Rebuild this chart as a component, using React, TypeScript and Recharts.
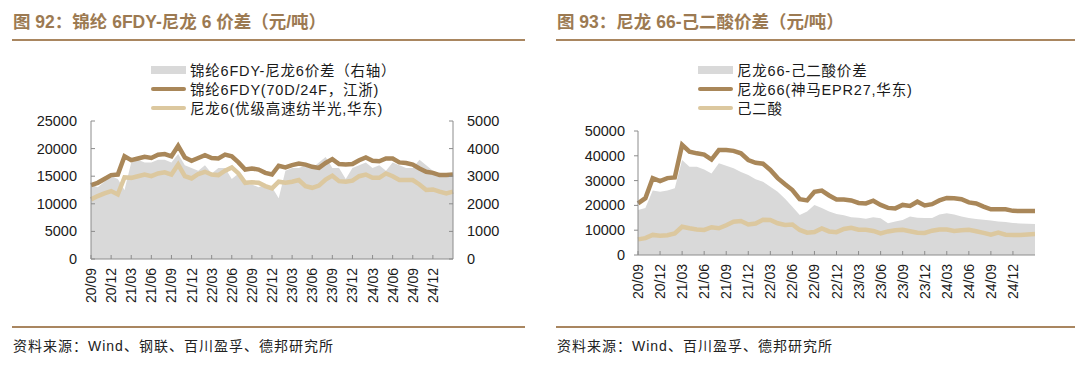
import React from "react";
import { ComposedChart, Area, Line, XAxis, YAxis } from "recharts";

const MONTHS = [
    "20/09", "20/10", "20/11", "20/12",
    "21/01", "21/02", "21/03", "21/04", "21/05", "21/06", "21/07", "21/08", "21/09", "21/10", "21/11", "21/12",
    "22/01", "22/02", "22/03", "22/04", "22/05", "22/06", "22/07", "22/08", "22/09", "22/10", "22/11", "22/12",
    "23/01", "23/02", "23/03", "23/04", "23/05", "23/06", "23/07", "23/08", "23/09", "23/10", "23/11", "23/12",
    "24/01", "24/02", "24/03", "24/04", "24/05", "24/06", "24/07", "24/08", "24/09", "24/10", "24/11", "24/12",
    "25/01", "25/02", "25/03",
];

// 图92
const FDY = [
    13400, 13800, 14500, 15200, 15300, 18600, 17900, 18200, 18500, 18300,
    18900, 19000, 18600, 20500, 18400, 17800, 18300, 18800, 18300, 18200,
    18900, 18600, 17500, 16200, 16400, 16200, 15600, 15300, 16900, 16600,
    17000, 17300, 17100, 16700, 16500, 17400, 18100, 17200, 17100, 17200,
    17900, 18400, 17800, 17700, 18200, 18200, 17500, 17400, 17100, 16400,
    15800, 15600, 15200, 15200, 15300,
];
const PA6 = [
    10800, 11400, 11900, 12300, 11700, 14800, 14700, 15000, 15300, 15000,
    15500, 15700, 15300, 17100, 15000, 14600, 15400, 15800, 15300, 15200,
    16000, 16600, 15500, 13800, 13900, 13800, 13200, 12800, 14000, 13800,
    14000, 14300, 13200, 12900, 13300, 14400, 15100, 14100, 14000, 14200,
    15000, 15300, 14700, 14700, 15500, 15000, 14300, 14300, 14300, 13500,
    12500, 12600, 12200, 11900, 12200,
];
const SPREAD6 = [
    2700, 2600, 2800, 3000, 2900, 2500, 3500, 3600, 3500, 3500,
    3600, 3600, 3500, 3800, 3400, 3300, 3200, 3400, 3100, 3300,
    3300, 2900, 3100, 2700, 2700, 2600, 2700, 2600, 2200, 3200,
    3300, 3300, 3400, 3300, 3500, 3700, 3300, 3300, 2900, 3300,
    3400, 3500, 3300, 3400, 3200, 3500, 3400, 3300, 3300, 3600,
    3400, 3200, 3100, 3000, 3100,
];

// 图93
const PA66 = [
    20800, 22900, 31000, 29800, 31000, 31300, 44400, 41700, 41000, 40500,
    38500, 42300, 42300, 42000, 41000, 38300, 37200, 36800, 34300, 31000,
    28500, 26200, 22500, 22000, 25500, 26000, 24000, 22400, 22400, 22000,
    21000, 20800, 21900, 20200, 19000, 18800, 20200, 19800, 21500, 20000,
    20500, 22000, 23000, 22900, 22500, 21200, 20800, 19500, 18400, 18400,
    18400, 17800, 17700, 17700, 17700,
];
const ADIPIC = [
    6300, 6800, 8100, 7800, 8000, 8700, 11400, 10800, 10300, 10100,
    11200, 10800, 12000, 13400, 13700, 12300, 12700, 14200, 14100, 12800,
    12100, 12300, 10100, 9000, 9300, 10700, 9500, 9200, 10500, 11000,
    10200, 10200, 9700, 8700, 9500, 10000, 10200, 9600, 9000, 8900,
    9800, 10300, 10300, 9700, 10000, 10200, 9600, 8900, 8200, 9000,
    8200, 8100, 8100, 8300, 8500,
];
const SPREAD66 = [
    18100, 19000, 26000, 25500, 26000, 26900, 38300, 35600, 35600, 34500,
    32900, 37000, 36000, 35000, 33500, 32300, 30500, 29500, 27500, 25500,
    22700, 19500, 16100, 17500, 20200, 19000, 17500, 16500, 16000, 15200,
    15000, 14600, 15200, 14800, 12800, 13500, 14100, 15500, 15000, 14900,
    14900, 16300, 16800, 16300, 15500, 14900, 14500, 14200, 13900, 13500,
    13300, 12900, 12700, 12600, 12500,
];

const LEFT_TICKS = [0, 5000, 10000, 15000, 20000, 25000];
const RIGHT_TICKS = [0, 1000, 2000, 3000, 4000, 5000];
const PA66_TICKS = [0, 10000, 20000, 30000, 40000, 50000];

const data92 = MONTHS.map((m, i) => ({ m, fdy: FDY[i], pa6: PA6[i], spread: SPREAD6[i] }));
const data93 = MONTHS.map((m, i) => ({ m, pa66: PA66[i], adipic: ADIPIC[i], spread: SPREAD66[i] }));

const DARK = "#a98759";
const LIGHT = "#dcc89f";
const GREY = "#d9d9d9";
const AXIS = "#8c8c8c";
const BROWN = "#a98660";
const NUM_FONT = "'Liberation Sans', Arial, 'Noto Sans CJK SC', sans-serif";

function XTick(props: any) {
    const { x, y, payload } = props;
    if (payload.value === "25/03") return <g />;
    const ty = y + 9;
    return (
        <g>
            <line x1={x} x2={x} y1={y} y2={y - 4} stroke={AXIS} />
            <text x={x} y={ty} transform={`rotate(-90 ${x} ${ty})`} textAnchor="end"
                dominantBaseline="central" fontSize={14} fill="#1a1a1a" fontFamily={NUM_FONT}>
                {payload.value}
            </text>
        </g>
    );
}

// inner = tick mark points into the plot
function makeYTick(side: "left" | "right", inner: boolean, gap: number) {
    return (props: any) => {
        const { x, y, payload } = props;
        const dir = side === "left" ? 1 : -1;
        const len = inner ? 4 : -4;
        return (
            <g>
                <line x1={x} x2={x + dir * len} y1={y} y2={y} stroke={AXIS} />
                <text x={x - dir * gap} y={y} textAnchor={side === "left" ? "end" : "start"}
                    dominantBaseline="central" fontSize={14.5} fill="#1a1a1a" fontFamily={NUM_FONT}>
                    {payload.value}
                </text>
            </g>
        );
    };
}

function LegendBox({ items, left }: { items: { label: string; kind: string; color: string }[]; left: number }) {
    return (
        <div style={{ position: "absolute", left, top: 60, fontFamily: NUM_FONT, fontSize: 14.5, letterSpacing: 0.8, color: "#1a1a1a" }}>
            {items.map((it) => (
                <div key={it.label} style={{ display: "flex", alignItems: "center", height: 19 }}>
                    <span style={{
                        display: "inline-block", width: 35, height: it.kind === "area" ? 8 : 4,
                        background: it.color, borderRadius: it.kind === "area" ? 0 : 2, marginRight: 4,
                    }} />
                    <span style={{ whiteSpace: "nowrap" }}>{it.label}</span>
                </div>
            ))}
        </div>
    );
}

function Panel({ left, width, title, source }: { left: number; width: number; title: string; source: string }) {
    return (
        <>
            <div style={{
                position: "absolute", left: left + 1, top: 10, fontSize: 17.5, fontWeight: 700, color: "#9c7a52",
                fontFamily: NUM_FONT, lineHeight: "24px", whiteSpace: "nowrap",
            }}>{title}</div>
            <div style={{ position: "absolute", left, top: 39, width, height: 2, background: BROWN }} />
            <div style={{ position: "absolute", left, top: 326, width, height: 2, background: BROWN }} />
            <div style={{
                position: "absolute", left: left + 1, top: 336, fontSize: 14, letterSpacing: 1.0, color: "#222",
                fontFamily: NUM_FONT, lineHeight: "20px", whiteSpace: "nowrap",
            }}>{source}</div>
        </>
    );
}

export default function App() {
    return (
        <div style={{ position: "absolute", left: 0, top: 0, width: 1080, height: 367, background: "#fff", overflow: "hidden" }}>
            <Panel left={12} width={513} title="图 92：锦纶 6FDY-尼龙 6 价差（元/吨）" source="资料来源：Wind、钢联、百川盈孚、德邦研究所" />
            <Panel left={556} width={519} title="图 93：尼龙 66-己二酸价差（元/吨）" source="资料来源：Wind、百川盈孚、德邦研究所" />

            <LegendBox left={151} items={[
                { label: "锦纶6FDY-尼龙6价差（右轴）", kind: "area", color: GREY },
                { label: "锦纶6FDY(70D/24F，江浙)", kind: "line", color: DARK },
                { label: "尼龙6(优级高速纺半光,华东)", kind: "line", color: LIGHT },
            ]} />
            <LegendBox left={698} items={[
                { label: "尼龙66-己二酸价差", kind: "area", color: GREY },
                { label: "尼龙66(神马EPR27,华东)", kind: "line", color: DARK },
                { label: "己二酸", kind: "line", color: LIGHT },
            ]} />

            <div style={{ position: "absolute", left: 0, top: 110 }}>
                <ComposedChart width={505} height={200} data={data92} margin={{ top: 11, right: 0, bottom: 0, left: 0 }}>
                    <XAxis dataKey="m" height={51} interval={2} tickSize={0} tickMargin={0}
                        axisLine={{ stroke: AXIS }} tickLine={false} tick={<XTick />} />
                    <YAxis yAxisId="left" width={91} domain={[0, 25000]} ticks={LEFT_TICKS} tickSize={0} tickMargin={0}
                        axisLine={{ stroke: AXIS }} tickLine={false} tick={makeYTick("left", true, 14)} />
                    <YAxis yAxisId="right" orientation="right" width={52} domain={[0, 5000]} ticks={RIGHT_TICKS}
                        tickSize={0} tickMargin={0} axisLine={{ stroke: AXIS }} tickLine={false}
                        tick={makeYTick("right", true, 14)} />
                    <Area yAxisId="right" dataKey="spread" type="linear" fill={GREY} fillOpacity={1} stroke="none"
                        isAnimationActive={false} />
                    <Line yAxisId="left" dataKey="pa6" type="linear" stroke={LIGHT} strokeWidth={4.5} dot={false}
                        isAnimationActive={false} />
                    <Line yAxisId="left" dataKey="fdy" type="linear" stroke={DARK} strokeWidth={4.5} dot={false}
                        isAnimationActive={false} />
                </ComposedChart>
            </div>

            <div style={{ position: "absolute", left: 547, top: 110 }}>
                <ComposedChart width={488} height={200} data={data93} margin={{ top: 21, right: 0, bottom: 0, left: 0 }}>
                    <XAxis dataKey="m" height={55} interval={2} tickSize={0} tickMargin={0}
                        axisLine={{ stroke: AXIS }} tickLine={false} tick={<XTick />} />
                    <YAxis width={91} domain={[0, 50000]} ticks={PA66_TICKS} tickSize={0} tickMargin={0}
                        axisLine={{ stroke: AXIS }} tickLine={false} tick={makeYTick("left", false, 13)} />
                    <Area dataKey="spread" type="linear" fill={GREY} fillOpacity={1} stroke="none"
                        isAnimationActive={false} />
                    <Line dataKey="adipic" type="linear" stroke={LIGHT} strokeWidth={4.5} dot={false}
                        isAnimationActive={false} />
                    <Line dataKey="pa66" type="linear" stroke={DARK} strokeWidth={4.5} dot={false}
                        isAnimationActive={false} />
                </ComposedChart>
            </div>
        </div>
    );
}
